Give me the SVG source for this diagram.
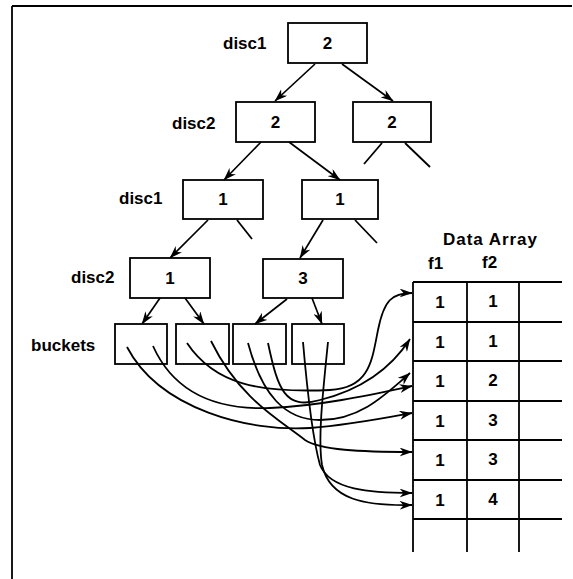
<svg xmlns="http://www.w3.org/2000/svg" width="573" height="579" viewBox="0 0 573 579">
<style>
  .box{fill:#fff;stroke:#000;stroke-width:1.8}
  .ln{fill:none;stroke:#000;stroke-width:1.8}
  .cv{fill:none;stroke:#000;stroke-width:1.8;marker-end:url(#ah)}
  .tr{fill:none;stroke:#000;stroke-width:1.7;marker-end:url(#ah)}
  .t{font-family:"Liberation Sans",Arial,sans-serif;font-weight:bold;font-size:17px;fill:#000}
  .c{text-anchor:middle}
</style>
<defs>
  <marker id="ah" viewBox="0 0 13 9" refX="12.5" refY="4.5" markerWidth="13" markerHeight="9" orient="auto" markerUnits="userSpaceOnUse">
    <path d="M0,0 L13,4.5 L0,9 L4,4.5 z" fill="#000"/>
  </marker>
</defs>
<rect width="573" height="579" fill="#fff"/>
<g id="frame">
  <line class="ln" x1="12" y1="6" x2="572" y2="6" stroke-width="2"/>
  <line class="ln" x1="12" y1="6" x2="12" y2="579" stroke-width="2"/>
</g>
<g id="labels">
  <text class="t" x="223" y="49">disc1</text>
  <text class="t" x="172" y="129">disc2</text>
  <text class="t" x="119" y="204">disc1</text>
  <text class="t" x="71" y="283">disc2</text>
  <text class="t" x="31" y="351">buckets</text>
</g>
<g id="n_root"><rect class="box" x="288" y="23" width="79" height="40"/><text class="t c" x="327.5" y="49">2</text></g>
<g id="n_l2a"><rect class="box" x="236" y="102" width="79" height="40"/><text class="t c" x="275.5" y="128">2</text></g>
<g id="n_l2b"><rect class="box" x="353" y="102" width="78" height="40"/><text class="t c" x="392" y="128">2</text></g>
<g id="n_l3a"><rect class="box" x="183" y="180" width="80" height="39"/><text class="t c" x="223" y="205">1</text></g>
<g id="n_l3b"><rect class="box" x="302" y="180" width="76" height="39"/><text class="t c" x="340" y="205">1</text></g>
<g id="n_l4a"><rect class="box" x="130" y="258" width="80" height="40"/><text class="t c" x="170" y="284">1</text></g>
<g id="n_l4b"><rect class="box" x="263" y="259" width="80" height="39"/><text class="t c" x="303" y="284">3</text></g>
<g id="b1"><rect class="box" x="115" y="324" width="52" height="40"/></g>
<g id="b2"><rect class="box" x="176" y="324" width="53" height="40"/></g>
<g id="b3"><rect class="box" x="233" y="324" width="53" height="40"/></g>
<g id="b4"><rect class="box" x="292" y="324" width="52" height="40"/></g>
<g id="data_array">
  <text class="t" x="443" y="245" font-size="18" textLength="94">Data Array</text>
  <text class="t" x="428" y="269">f1</text>
  <text class="t" x="482" y="268">f2</text>
  <g class="ln">
    <line x1="413" y1="282" x2="562" y2="282"/>
    <line x1="413" y1="322" x2="562" y2="322"/>
    <line x1="413" y1="361" x2="562" y2="361"/>
    <line x1="413" y1="401" x2="562" y2="401"/>
    <line x1="413" y1="440" x2="562" y2="440"/>
    <line x1="413" y1="480" x2="562" y2="480"/>
    <line x1="413" y1="519" x2="562" y2="519"/>
    <line x1="413" y1="282" x2="413" y2="552"/>
    <line x1="467" y1="282" x2="467" y2="552"/>
    <line x1="519" y1="282" x2="519" y2="552"/>
  </g>
  <g class="t c">
    <text x="440" y="308">1</text><text x="493" y="307">1</text>
    <text x="440" y="348">1</text><text x="493" y="347">1</text>
    <text x="440" y="387">1</text><text x="493" y="386">2</text>
    <text x="440" y="427">1</text><text x="493" y="426">3</text>
    <text x="440" y="466">1</text><text x="493" y="465">3</text>
    <text x="440" y="506">1</text><text x="493" y="505">4</text>
  </g>
</g>
<g id="connectors">
  <line class="tr" x1="315" y1="64" x2="275" y2="101"/>
  <line class="tr" x1="342" y1="64" x2="393" y2="101"/>
  <line class="ln" x1="382" y1="143" x2="364" y2="164"/>
  <line class="ln" x1="405" y1="143" x2="430" y2="167"/>
  <line class="tr" x1="261" y1="142" x2="224" y2="180"/>
  <line class="tr" x1="289" y1="142" x2="340" y2="180"/>
  <line class="ln" x1="237" y1="220" x2="252" y2="239"/>
  <line class="tr" x1="208" y1="220" x2="170" y2="258"/>
  <line class="tr" x1="323" y1="220" x2="300" y2="258"/>
  <line class="ln" x1="355" y1="220" x2="377" y2="243"/>
  <line class="tr" x1="160" y1="298" x2="142" y2="324"/>
  <line class="tr" x1="185" y1="298" x2="204" y2="324"/>
  <line class="tr" x1="287" y1="299" x2="255" y2="324"/>
  <line class="tr" x1="312" y1="298" x2="322" y2="324"/>
  <path class="cv" d="M127,347 C160,410 250,432 310,428 C350,425 385,418 412,413"/>
  <path class="cv" d="M153,346 C175,395 220,410 270,408 C320,406 370,395 412,386"/>
  <path class="cv" d="M187,343 C215,385 260,393 330,390 C370,388 372,360 378,330 C384,300 392,293 412,293"/>
  <path class="cv" d="M211,341 C240,400 280,420 305,440 C320,450 360,452 412,452"/>
  <path class="cv" d="M248,343 C262,395 285,420 320,420 C360,420 385,395 410,373"/>
  <path class="cv" d="M268,343 C278,390 285,410 320,400 C360,390 390,370 410,339"/>
  <path class="cv" d="M303,342 C308,400 313,440 320,465 C330,490 370,493 412,493"/>
  <path class="cv" d="M328,342 C322,400 318,440 322,465 C330,500 365,506 412,505"/>
</g>
</svg>
